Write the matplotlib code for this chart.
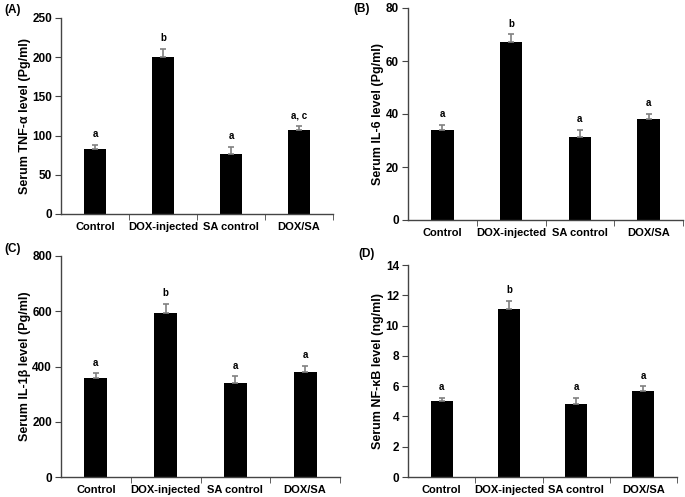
import matplotlib
matplotlib.use("Agg")
import matplotlib.pyplot as plt
import numpy as np

plt.rcParams['font.family'] = ['Liberation Sans', 'DejaVu Sans']
plt.rcParams['font.weight'] = 'bold'

categories = ["Control", "DOX-injected", "SA control", "DOX/SA"]

tnf_vals = [83, 200, 77, 107]
tnf_err = [5, 11, 9, 5]
tnf_sig = ["a", "b", "a", "a, c"]

il6_vals = [34, 67, 31.5, 38]
il6_err = [2, 3, 2.5, 2]
il6_sig = ["a", "b", "a", "a"]

il1b_vals = [358, 595, 340, 380]
il1b_err = [18, 32, 25, 22]
il1b_sig = ["a", "b", "a", "a"]

nfkb_vals = [5.0, 11.1, 4.8, 5.7]
nfkb_err = [0.25, 0.55, 0.45, 0.3]
nfkb_sig = ["a", "b", "a", "a"]

W, H = 685, 497
fig = plt.figure(figsize=(W / 100, H / 100), dpi=100)


def px_axes(l, r, t, b):
    return fig.add_axes([l / W, (H - b) / H, (r - l) / W, (b - t) / H])


def panel(ax, vals, err, sig, ylabel, ymax, ystep, tag, tagxy):
    x = np.arange(len(categories))
    ax.bar(x, vals, width=0.33, color='black', zorder=2)
    ax.errorbar(x, vals, yerr=[np.zeros(len(err)), err], fmt='none',
                ecolor='#808080', elinewidth=1.2, capsize=2, capthick=1.2, zorder=3)
    for xi, v, e, s in zip(x, vals, err, sig):
        ax.annotate(s, (xi, v + e), xytext=(0, 4), textcoords='offset points',
                    ha='center', va='bottom', fontsize=7, fontweight='bold')
    ax.set_xlim(-0.5, 3.5)
    ax.set_ylim(0, ymax)
    ax.set_yticks(np.arange(0, ymax + ystep / 2, ystep))
    ax.set_xticks(x)
    ax.set_xticklabels(categories, fontsize=8, fontweight='bold')
    ax.set_xticks([0.5, 1.5, 2.5, 3.5], minor=True)
    ax.tick_params(axis='x', which='major', length=0, pad=5.5)
    ax.tick_params(axis='x', which='minor', length=4, direction='out', color='#444444')
    ax.tick_params(axis='y', length=4, direction='out', color='#444444', labelsize=8.5, pad=2.5)
    for lab in ax.get_yticklabels():
        lab.set_fontweight('bold')
    for sp in ['top', 'right']:
        ax.spines[sp].set_visible(False)
    for sp in ['left', 'bottom']:
        ax.spines[sp].set_color('#444444')
        ax.spines[sp].set_linewidth(1.0)
    ax.set_ylabel(ylabel, fontsize=9, fontweight='bold', labelpad=1)
    fig.text(tagxy[0] / W, 1 - tagxy[1] / H, tag, fontsize=8.5, fontweight='bold',
             ha='left', va='center')


axA = px_axes(61, 333, 18, 214)
panel(axA, tnf_vals, tnf_err, tnf_sig, "Serum TNF-\u03b1 level (Pg/ml)", 250, 50, "(A)", (4, 10))

axB = px_axes(408, 683, 8, 220)
panel(axB, il6_vals, il6_err, il6_sig, "Serum IL-6 level (Pg/ml)", 80, 20, "(B)", (353, 9))

axC = px_axes(61, 340, 256, 477)
panel(axC, il1b_vals, il1b_err, il1b_sig, "Serum IL-1\u03b2 level (Pg/ml)", 800, 200, "(C)", (4, 249))

axD = px_axes(408, 677, 265, 477)
panel(axD, nfkb_vals, nfkb_err, nfkb_sig, "Serum NF-\u03baB level (ng/ml)", 14, 2, "(D)", (358, 254))

fig.savefig("out.png", dpi=100)
